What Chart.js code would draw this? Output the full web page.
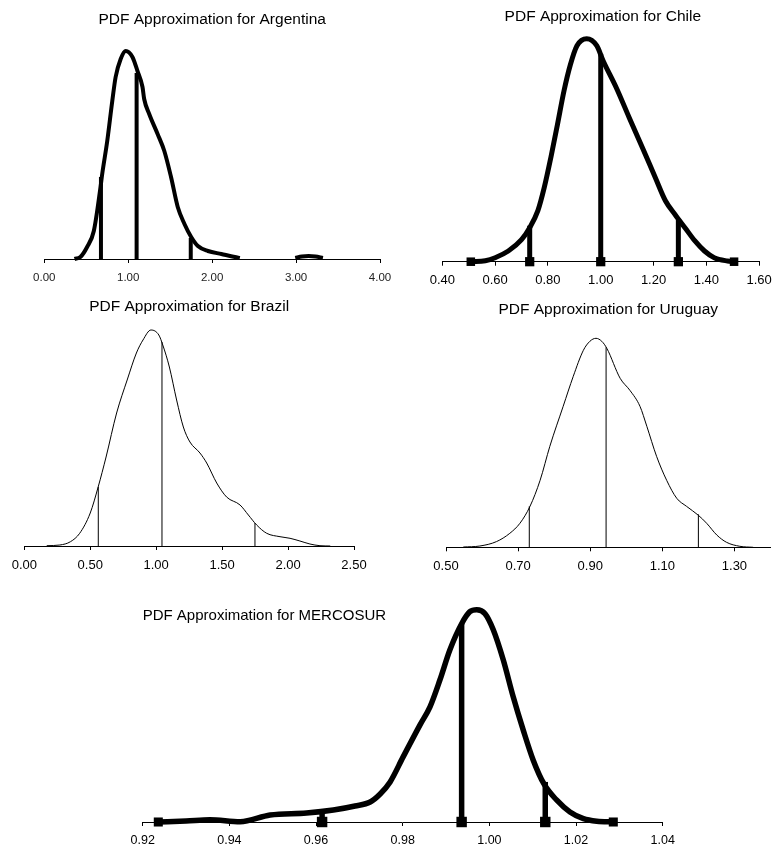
<!DOCTYPE html>
<html>
<head>
<meta charset="utf-8">
<script src="https://cdn.jsdelivr.net/npm/chart.js@4.4.0/dist/chart.umd.min.js"></script>
<style>
  html, body { margin: 0; background: #fff; overflow: hidden; }
  #wrap { position: relative; width: 779px; height: 850px; overflow: hidden; }
  canvas { position: absolute; }
</style>
</head>
<body>
<div id="wrap">
  <canvas id="arg" width="400" height="300" style="left:0;top:0"></canvas>
  <canvas id="chi" width="379" height="300" style="left:400px;top:0"></canvas>
  <canvas id="brz" width="400" height="292" style="left:0;top:290px"></canvas>
  <canvas id="uru" width="379" height="292" style="left:400px;top:290px"></canvas>
  <canvas id="mer" width="779" height="282" style="left:0;top:575px"></canvas>
</div>
<script>
// Argentina (null = gap in the estimated curve)
const argX = [0.36, 0.43, 0.51, 0.59, 0.67, 0.69, 0.75, 0.81, 0.85, 0.91, 0.97, 1.05, 1.11, 1.17, 1.19, 1.25, 1.35, 1.43, 1.51, 1.59, 1.67, 1.75, 1.83, 1.95, 2.11, 2.27, 2.33, 2.66, 2.99, 3.07, 3.15, 3.23, 3.32];
const argY = [0, 0.02, 0.12, 0.28, 0.72, 0.85, 1.18, 1.58, 1.82, 2.00, 2.08, 2.02, 1.88, 1.72, 1.60, 1.45, 1.25, 1.08, 0.82, 0.52, 0.35, 0.22, 0.13, 0.08, 0.05, 0.02, 0.01, null, 0.01, 0.025, 0.03, 0.025, 0.01];
const argCutX = [0.675, 1.10, 1.745];
const argCutY = [0.82, 1.86, 0.21];
const argTicks = [0, 1, 2, 3, 4];

// Chile
const chiX = [0.508, 0.563, 0.60, 0.65, 0.70, 0.731, 0.762, 0.786, 0.811, 0.836, 0.861, 0.885, 0.910, 0.947, 0.985, 1.009, 1.059, 1.108, 1.158, 1.207, 1.245, 1.282, 1.319, 1.356, 1.393, 1.43, 1.48, 1.505];
const chiY = [0, 0.01, 0.04, 0.107, 0.22, 0.34, 0.51, 0.74, 1.04, 1.37, 1.71, 1.97, 2.16, 2.23, 2.16, 2.01, 1.74, 1.44, 1.14, 0.84, 0.61, 0.47, 0.34, 0.21, 0.107, 0.04, 0.007, 0];
const chiCutX = [0.731, 1.0, 1.294];
const chiCutY = [0.36, 2.08, 0.42];
const chiTicks = [0.4, 0.6, 0.8, 1.0, 1.2, 1.4, 1.6];

// Brazil
const brzX = [0.17, 0.27, 0.35, 0.42, 0.50, 0.56, 0.62, 0.70, 0.78, 0.85, 0.90, 0.96, 1.02, 1.05, 1.10, 1.155, 1.206, 1.256, 1.332, 1.383, 1.459, 1.534, 1.636, 1.699, 1.762, 1.838, 1.939, 2.015, 2.09, 2.166, 2.242, 2.32];
const brzY = [0.003, 0.01, 0.043, 0.127, 0.33, 0.59, 0.89, 1.33, 1.66, 1.93, 2.06, 2.16, 2.11, 2.01, 1.79, 1.46, 1.19, 1.04, 0.93, 0.83, 0.63, 0.49, 0.41, 0.31, 0.21, 0.127, 0.093, 0.077, 0.05, 0.02, 0.003, 0];
const brzCutX = [0.561, 1.044, 1.749];
const brzCutY = [0.59, 2.04, 0.23];
const brzTicks = [0, 0.5, 1.0, 1.5, 2.0, 2.5];

// Uruguay
const uruX = [0.548, 0.594, 0.64, 0.677, 0.705, 0.733, 0.761, 0.788, 0.825, 0.853, 0.881, 0.899, 0.916, 0.932, 0.946, 0.983, 1.01, 1.038, 1.057, 1.084, 1.112, 1.14, 1.167, 1.2, 1.223, 1.251, 1.278, 1.315, 1.352];
const uruY = [0.003, 0.013, 0.057, 0.14, 0.24, 0.41, 0.67, 1.01, 1.41, 1.71, 1.97, 2.06, 2.09, 2.06, 1.99, 1.69, 1.57, 1.41, 1.21, 0.91, 0.67, 0.49, 0.41, 0.32, 0.24, 0.123, 0.05, 0.01, 0];
const uruCutX = [0.731, 0.944, 1.20];
const uruCutY = [0.41, 2.0, 0.33];
const uruTicks = [0.5, 0.7, 0.9, 1.1, 1.3];

// MERCOSUR
const merX = [0.9236, 0.930, 0.9355, 0.9425, 0.9494, 0.9578, 0.964, 0.969, 0.9725, 0.9748, 0.9771, 0.9801, 0.984, 0.9863, 0.9886, 0.9909, 0.9936, 0.9955, 0.9971, 0.999, 1.0009, 1.0032, 1.0055, 1.0078, 1.0101, 1.0126, 1.0155, 1.0186, 1.0217, 1.0248, 1.0286];
const merY = [0, 0.01, 0.023, 0.003, 0.07, 0.09, 0.12, 0.16, 0.20, 0.28, 0.40, 0.65, 0.97, 1.15, 1.42, 1.72, 1.98, 2.10, 2.12, 2.08, 1.92, 1.62, 1.25, 0.92, 0.62, 0.38, 0.22, 0.10, 0.033, 0.007, 0];
const merCutX = [0.9614, 0.9936, 1.0129];
const merCutY = [0.10, 1.98, 0.40];
const merTicks = [0.92, 0.94, 0.96, 0.98, 1.00, 1.02, 1.04];

const FONT = "'Liberation Sans', Arial, sans-serif";

function pdfChart(id, o) {
  const curve = o.x.map((v, i) => ({ x: v, y: o.y[i] }));
  const last = curve.length - 1;
  const datasets = [{
    data: curve,
    showLine: true,
    borderColor: "#000",
    backgroundColor: "#000",
    borderWidth: o.lw,
    borderJoinStyle: "round",
    cubicInterpolationMode: "monotone",
    pointStyle: "rect",
    pointRadius: (c) => (o.endMark && (c.dataIndex === 0 || c.dataIndex === last)) ? o.endMark : 0,
    clip: false,
  }];
  o.cutX.forEach((c, i) => {
    datasets.push({
      data: [{ x: c, y: 0 }, { x: c, y: o.cutY[i] }],
      showLine: true,
      borderColor: "#000",
      backgroundColor: "#000",
      borderWidth: o.lw,
      pointStyle: "rect",
      pointRadius: [o.cutMark || 0, 0],
      clip: false,
    });
  });

  return new Chart(document.getElementById(id), {
    type: "scatter",
    data: { datasets },
    options: {
      responsive: false,
      animation: false,
      events: [],
      layout: { padding: o.pad },
      plugins: {
        legend: { display: false },
        tooltip: { enabled: false },
        title: {
          display: true,
          text: o.title,
          align: o.align || "center",
          color: "#000",
          font: { family: FONT, size: o.titleSize || 15.5, weight: "normal" },
          padding: o.titlePad,
        },
      },
      scales: {
        x: {
          type: "linear",
          min: o.min,
          max: o.max,
          afterBuildTicks: (s) => { s.ticks = o.ticks.map((v) => ({ value: v })); },
          ticks: {
            callback: (v) => Number(v).toFixed(2),
            color: o.tickColor || "#000",
            font: { family: FONT, size: o.tickSize },
            padding: o.tickPad,
            maxRotation: 0,
            autoSkip: false,
          },
          grid: { drawOnChartArea: false, drawTicks: true, tickLength: 4, color: "#000" },
          border: { display: true, color: "#000", width: 1 },
        },
        y: { display: false, min: 0, max: o.ymax },
      },
    },
  });
}

pdfChart("arg", {
  title: "PDF Approximation for Argentina",
  x: argX, y: argY, cutX: argCutX, cutY: argCutY, ticks: argTicks,
  min: 0, max: 4, ymax: 2.257, lw: 4,
  pad: { left: 44.3, right: 20, top: 10.7, bottom: 7 },
  titlePad: { top: 0, bottom: 4 },
  tickSize: 11.5, tickPad: 8.1, tickColor: "#222",
});

pdfChart("chi", {
  title: "PDF Approximation for Chile",
  x: chiX, y: chiY, cutX: chiCutX, cutY: chiCutY, ticks: chiTicks,
  min: 0.4, max: 1.6, ymax: 2.317, lw: 5, endMark: 2.5, cutMark: 3,
  pad: { left: 42.3, right: 15.7, top: 7.4, bottom: 4.3 },
  titlePad: { top: 0, bottom: 4 },
  tickSize: 13, tickPad: 7.2,
});

pdfChart("brz", {
  title: "PDF Approximation for Brazil",
  x: brzX, y: brzY, cutX: brzCutX, cutY: brzCutY, ticks: brzTicks,
  min: 0, max: 2.5, ymax: 2.237, lw: 1,
  pad: { left: 24.3, right: 46, top: 7.7, bottom: 2 },
  titlePad: { top: 0, bottom: 6 },
  tickSize: 13, tickPad: 7.2,
});

pdfChart("uru", {
  title: "PDF Approximation for Uruguay",
  x: uruX, y: uruY, cutX: uruCutX, cutY: uruCutY, ticks: uruTicks,
  min: 0.5, max: 1.4, ymax: 2.22, lw: 1,
  pad: { left: 46, right: 8.5, top: 10.7, bottom: 0.7 },
  titlePad: { top: 0, bottom: 6 },
  tickSize: 13, tickPad: 7.2,
});

pdfChart("mer", {
  title: "PDF Approximation for MERCOSUR",
  align: "start", titleSize: 15,
  x: merX, y: merY, cutX: merCutX, cutY: merCutY, ticks: merTicks,
  min: 0.92, max: 1.04, ymax: 1.927, lw: 5.5, endMark: 2.5, cutMark: 3.5,
  pad: { left: 142.7, right: 116.3, top: 32, bottom: 1 },
  titlePad: { top: 0, bottom: 4 },
  tickSize: 12.5, tickPad: 7.5,
});
</script>
</body>
</html>
